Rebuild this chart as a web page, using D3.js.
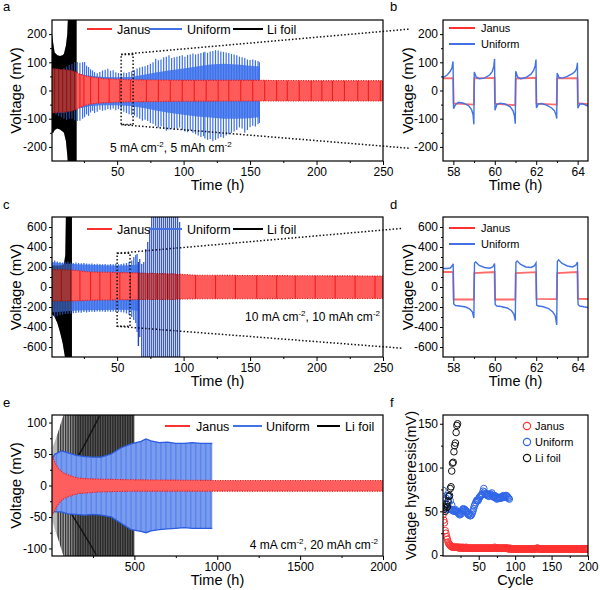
<!DOCTYPE html>
<html><head><meta charset="utf-8">
<script src="https://cdn.jsdelivr.net/npm/d3@7"></script>
<style>body{margin:0;background:#fff}svg{display:block}</style>
</head><body><svg id="chart" width="600" height="590"></svg>
<script>
// ---------------- DATA ----------------
// Panel a: 5 mA cm-2, 5 mAh cm-2 (time h, voltage mV)
const aJanusT  = [1, 5, 10, 15, 19, 22, 26, 30, 35, 40, 50, 60, 80, 100, 150, 200, 250];
const aJanusHi = [78, 76, 74, 72, 66, 58, 52, 48, 45, 42, 40, 38, 37, 36, 36, 35, 35];
const aJanusLo = [-80, -78, -76, -74, -68, -60, -52, -48, -45, -43, -41, -40, -39, -38, -37, -37, -37];
const aJanusStripes = [3, 6, 9, 12, 15, 18, 22, 25, 30, 36, 44, 52, 60, 72, 81, 90, 99, 108, 117, 126, 134, 143, 152, 161, 170, 178, 187, 196, 204, 212, 221, 231, 239, 248];
const aUniT  = [1, 10, 20, 25, 30, 40, 50, 60, 70, 80, 90, 100, 110, 120, 130, 140, 150, 157];
const aUniHi = [70, 70, 60, 56, 52, 48, 47, 48, 56, 65, 72, 78, 85, 92, 95, 92, 88, 85];
const aUniLo = [-80, -80, -65, -60, -55, -52, -52, -55, -62, -72, -80, -86, -92, -96, -100, -100, -98, -95];
const aUniSpikes = [[4,70,-85],[6,75,-90],[8,72,-95],[10,80,-100],[12,85,-105],[14,90,-100],[16,95,-100],[18,100,-105],[20,101,-108],[22,98,-107],[24,100,-100],[25.5,101,-95],[27,88,-85],[28.5,83,-90],[30,75,-78],[31.5,71,-72],[33,65,-80],[35,61,-75],[37,66,-68],[39,71,-72],[41,74,-70],[43,77,-66],[45,70,-68],[47,72,-64],[49,65,-70],[51,62,-66],[53,60,-72],[55,64,-75],[57,62,-80],[59,66,-84],[61,68,-88],[63,72,-89],[65,78,-95],[67,82,-100],[69,84,-107],[71,86,-104],[73,90,-108],[75,95,-115],[77,100,-118],[79,113,-125],[81,107,-131],[83,110,-128],[85,118,-135],[87,120,-143],[89,125,-138],[91,115,-135],[93,118,-140],[95,120,-135],[97,122,-131],[99,125,-140],[101,120,-145],[103,126,-148],[105,128,-142],[107,131,-150],[109,128,-155],[111,130,-160],[113,133,-165],[115,135,-162],[116,137,-170],[118,134,-175],[120,138,-172],[122,140,-180],[124,143,-175],[126,142,-170],[128,138,-165],[130,137,-168],[132,135,-160],[134,133,-155],[136,130,-150],[138,128,-145],[140,125,-140],[142,120,-131],[144,118,-135],[146,115,-150],[148,110,-140],[150,108,-130],[152,110,-125],[154,107,-128],[156,105,-120],[157,100,-115]];
const aLiT  = [1, 2, 3, 5, 7, 9, 10, 11.5, 12.5, 13, 19.5];
const aLiHi = [200, 165, 135, 125, 122, 125, 130, 160, 200, 260, 260];
const aLiLo = [-150, -150, -140, -135, -138, -145, -150, -180, -230, -260, -260];

// Panel b: zoom 57.5-64.5 h
const bJanusT = [57.5, 57.99, 58.01, 58.99, 59.01, 59.99, 60.01, 60.99, 61.01, 61.99, 62.01, 62.99, 63.01, 63.99, 64.01, 64.5];
const bJanusV = [43, 44, -46, -50, 43, 45, -47, -52, 42, 45, -47, -50, 43, 44, -45, -48];
const bUniT = [57.5,57.7,57.85,57.93,57.985, 58.01,58.1,58.25,58.5,58.75,58.88,58.95,58.99, 59.01,59.1,59.25,59.5,59.75,59.88,59.95,59.99, 60.01,60.1,60.25,60.5,60.75,60.88,60.95,60.99, 61.01,61.1,61.25,61.5,61.75,61.88,61.95,61.99, 62.01,62.1,62.25,62.5,62.75,62.88,62.95,62.99, 63.01,63.1,63.25,63.5,63.75,63.88,63.95,63.99, 64.01,64.1,64.25,64.5];
const bUniV = [45,55,68,80,103, -65,-50,-42,-45,-55,-68,-85,-120, 66,48,42,44,55,68,85,112, -70,-50,-45,-48,-58,-72,-90,-118, 68,48,42,46,58,72,88,110, -62,-48,-46,-52,-62,-72,-85,-100, 62,46,44,50,60,68,78,98, -63,-48,-47,-55];

// Panel c: 10 mA cm-2, 10 mAh cm-2
const cJanusT  = [1, 10, 20, 25, 30, 40, 50, 60, 65, 70, 80, 90, 100, 110, 150, 200, 250];
const cJanusHi = [175, 172, 165, 155, 150, 148, 145, 142, 140, 138, 135, 132, 125, 118, 115, 112, 110];
const cJanusLo = [-140, -140, -138, -135, -132, -130, -128, -126, -125, -125, -125, -125, -120, -118, -117, -115, -115];
const cJanusStripes = [8, 15, 22, 30, 37, 45, 52, 60, 66, 73, 80, 88, 95, 109, 124, 139, 155, 170, 184, 199, 214, 229, 244];
const cUniT  = [1, 5, 10, 15, 20, 30, 40, 50, 60, 66];
const cUniHi = [250, 242, 236, 232, 228, 222, 218, 216, 218, 225];
const cUniLo = [-255, -250, -245, -240, -236, -232, -230, -228, -230, -240];
const cUniSpikes = [[3,265,-300],[5,255,-290],[7,250,-280],[9,245,-275],[11,250,-270],[13,255,-270],[15,245,-265],[17,240,-262],[19,245,-260],[21,240,-255],[23,238,-258],[25,240,-250],[27,235,-255],[29,232,-250],[31,236,-248],[33,230,-250],[35,233,-245],[37,230,-248],[39,228,-245],[41,230,-250],[43,226,-245],[45,230,-248],[47,228,-245],[49,232,-250],[51,228,-248],[53,230,-252],[55,235,-255],[57,240,-265],[59,250,-280],[61,265,-300],[62.5,300,-330],[64,320,-360],[65,330,-450],[66,250,-590],[67,280,-500],[68.5,230,-750],[70,250,-750],[71.5,380,-750],[73,450,-750],[74.5,600,-720],[76,750,-750],[77.5,750,-750],[79,750,-720],[80.5,750,-750],[82,750,-750],[83.5,750,-750],[85,720,-750],[86.5,750,-750],[88,750,-750],[89.5,750,-750],[91,750,-750],[92.5,750,-750],[94,750,-750],[95.5,750,-720],[97,650,-750]];
const cLiT  = [1, 3, 5, 7, 9, 10, 11, 11.5, 16];
const cLiHi = [215, 215, 215, 215, 220, 230, 320, 750, 750];
const cLiLo = [-270, -300, -360, -450, -560, -640, -720, -750, -750];

// Panel d: zoom 57.5-64.5 h
const dJanusT = [57.5, 57.99, 58.01, 58.99, 59.01, 59.99, 60.01, 60.99, 61.01, 61.99, 62.01, 62.99, 63.01, 63.99, 64.01, 64.5];
const dJanusV = [150, 150, -125, -125, 140, 150, -125, -125, 140, 148, -118, -122, 140, 150, -118, -120];
const dUniT = [57.5,57.7,57.85,57.95,57.99, 58.02,58.1,58.3,58.6,58.8,58.92,58.99, 59.02,59.08,59.25,59.5,59.75,59.9,59.99, 60.02,60.1,60.3,60.6,60.8,60.92,60.99, 61.02,61.08,61.25,61.5,61.75,61.9,61.99, 62.02,62.1,62.3,62.6,62.8,62.92,62.99, 63.02,63.08,63.25,63.5,63.75,63.9,63.99, 64.02,64.1,64.3,64.5];
const dUniV = [185,185,190,215,232, -170,-185,-190,-200,-220,-250,-310, 240,250,215,195,188,200,235, -175,-190,-195,-210,-235,-270,-335, 245,260,225,200,195,210,240, -180,-190,-195,-215,-250,-290,-380, 255,272,235,210,200,215,250, -175,-190,-198,-205];

// Panel e: 4 mA cm-2, 20 mAh cm-2
const eJanusT  = [3, 10, 20, 30, 40, 60, 80, 100, 130, 160, 200, 300, 500, 1000, 1500, 2000];
const eJanusHi = [50, 44, 37, 32, 28, 22, 19, 17, 14, 12, 11, 10, 9, 8, 8, 8];
const eJanusLo = [-48, -44, -40, -34, -30, -24, -20, -18, -15, -13, -12, -10, -9, -9, -9, -9];
const eUniT  = [3, 10, 20, 40, 60, 100, 150, 200, 250, 300, 360, 420, 480, 540, 570, 600, 650, 700, 750, 800, 850, 900, 950, 970];
const eUniHi = [35, 45, 50, 52, 55, 52, 48, 46, 45, 45, 50, 60, 66, 70, 74, 71, 68, 69, 67, 67, 68, 67, 67, 67];
const eUniLo = [-30, -38, -42, -42, -42, -45, -46, -47, -46, -47, -50, -60, -70, -73, -75, -72, -70, -69, -68, -67, -68, -68, -68, -68];
const eUniStripes = [30, 60, 90, 120, 150, 180, 210, 240, 270, 300, 330, 360, 390, 420, 450, 480, 510, 540, 570, 600, 630, 660, 690, 720, 750, 780, 810, 840, 870, 900, 930, 960];
const eLiT  = [5, 20, 40, 70, 80, 500];
const eLiHi = [60, 70, 85, 110, 115, 115];
const eLiLo = [-55, -70, -85, -110, -115, -115];
const eLiStripes = [40, 55, 70, 85, 100, 115, 130, 145, 160, 175, 190, 205, 220, 235, 250, 265, 280, 295, 310, 325, 340, 355, 370, 385, 400, 415, 430, 445, 460, 475, 490];
const eLiEdgeUp = [[130, 35], [180, 55], [230, 80], [289, 110]];
const eLiEdgeLo = [[120, -45], [180, -70], [230, -92], [270, -110]];

// Panel f: voltage hysteresis vs cycle
const fJanusV = [46,40,37,28,25,21,18,15,13,12,11,10,10,9,9,9,9,9,9,9,
  9,9,8,9,8,9,8,8,9,8,8,8,9,8,8,8,8,8,8,8,
  8,8,8,8,8,8,8,8,8,8,8,8,8,8,8,8,8,8,8,8,
  8,8,8,8,8,8,8,8,8,8,8,9,8,8,8,8,8,8,8,8,
  8,8,8,8,8,8,8,8,8,8,7,7,8,7,7,7,7,7,7,7,
  7,7,7,7,7,7,7,7,7,7,7,7,7,7,7,7,7,7,7,7,
  7,7,7,7,7,7,7,7,7,8,8,7,7,7,7,7,7,7,7,7,
  7,7,7,7,7,7,7,7,7,7,7,7,7,7,7,7,7,7,7,7,
  7,7,7,7,7,7,7,7,7,7,7,7,7,7,7,7,7,7,7,7,
  7,7,7,7,7,7,7,7,7,7,7,7,7,7,7,7,7,7,7,7];
const fUniV = [74,55,62,58,65,52,68,60,67,53,62,52,57,51,52,50,51,52,50,50,
  49,48,47,46,48,47,50,52,53,52,52,51,50,49,47,46,47,45,45,46,
  48,50,53,56,58,60,62,63,62,64,66,67,68,69,70,73,76,72,70,69,
  70,68,69,67,68,70,69,71,68,67,66,68,67,65,64,65,66,65,65,66,
  65,67,66,68,67,66,68,68,67,66,65,64];
const fLiC = [2,3,4,5,6,7,8,9,10,11,12,13,14,15,16,17,18,19,20,21];
const fLiV = [52,55,50,54,58,55,62,67,68,76,78,96,105,106,118,125,128,140,148,150];

const seriesNames = ["Janus", "Uniform", "Li foil"];

// ---------------- DRAWING ----------------
const F = "Arial, 'Liberation Sans', Helvetica, sans-serif";
const RED = "#ff5b5b", REDL = "#ee1818", RLEG = "#ff3030";
const BLUE = "#5a88f0", BLUEL = "#3d6fe8", BLEG = "#4272e6";
const svg = d3.select("#chart");
const defs = svg.append("defs");
let nClip = 0;

function panel(o) {
  const x = d3.scaleLinear().domain(o.xd).range([o.l, o.r]);
  const y = d3.scaleLinear().domain(o.yd).range([o.b, o.t]);
  const id = "clip" + (nClip++);
  defs.append("clipPath").attr("id", id).append("rect")
    .attr("x", o.l).attr("y", o.t).attr("width", o.r - o.l).attr("height", o.b - o.t);
  const plot = svg.append("g").attr("clip-path", `url(#${id})`);
  const ax = svg.append("g");
  return { x, y, plot, ax, o };
}
function axes(p, xt, xm, yt, ym, xlab, ylab, ylx, tsz) {
  const { x, y, ax, o } = p;
  const st = s => { s.select(".domain").remove(); s.attr("font-family", F).attr("font-size", 12);
    s.selectAll("line").attr("stroke", "#000"); s.selectAll("text").attr("fill", "#000"); };
  const fmt = d => String(d);
  ax.append("g").attr("transform", `translate(0,${o.b})`).call(d3.axisBottom(x).tickValues(xt).tickSize(4).tickPadding(2).tickFormat(fmt)).call(st);
  ax.append("g").attr("transform", `translate(0,${o.b})`).call(d3.axisBottom(x).tickValues(xm).tickSize(2).tickFormat("")).call(st);
  ax.append("g").attr("transform", `translate(${o.l},0)`).call(d3.axisLeft(y).tickValues(yt).tickSize(3).tickPadding(2).tickFormat(fmt)).call(st);
  ax.append("g").attr("transform", `translate(${o.l},0)`).call(d3.axisLeft(y).tickValues(ym).tickSize(2).tickFormat("")).call(st);
  ax.append("rect").attr("x", o.l).attr("y", o.t).attr("width", o.r - o.l).attr("height", o.b - o.t)
    .attr("fill", "none").attr("stroke", "#000").attr("stroke-width", 1.2);
  ax.append("text").attr("x", (o.l + o.r) / 2).attr("y", o.b + 29).attr("text-anchor", "middle")
    .attr("font-family", F).attr("font-size", 14.5).text(xlab);
  ax.append("text").attr("transform", `translate(${ylx},${(o.t + o.b) / 2}) rotate(-90)`).attr("text-anchor", "middle")
    .attr("font-family", F).attr("font-size", tsz || 15).text(ylab);
}
function bandPath(p, T, Hi, Lo) {
  return d3.area().x(i => p.x(T[i])).y0(i => p.y(Lo[i])).y1(i => p.y(Hi[i]))(d3.range(T.length));
}
function edge(p, T, V) { return d3.line().x(i => p.x(T[i])).y(i => p.y(V[i]))(d3.range(T.length)); }
function stripes(p, T, Hi, Lo, times, color, w, op) {
  const id = "bc" + (nClip++);
  defs.append("clipPath").attr("id", id).append("path").attr("d", bandPath(p, T, Hi, Lo));
  p.plot.append("g").attr("clip-path", `url(#${id})`).selectAll("line").data(times).join("line")
    .attr("x1", d => p.x(d)).attr("x2", d => p.x(d)).attr("y1", p.o.t).attr("y2", p.o.b)
    .attr("stroke", color).attr("stroke-width", w).attr("opacity", op);
}
function spikes(g, p, data, color, w) {
  return g.append("g").selectAll("line").data(data).join("line")
    .attr("x1", d => p.x(d[0])).attr("x2", d => p.x(d[0])).attr("y1", d => p.y(d[1])).attr("y2", d => p.y(d[2]))
    .attr("stroke", color).attr("stroke-width", w);
}
function legendLines(items, y, fs) {
  items.forEach(it => {
    svg.append("line").attr("x1", it.x1).attr("x2", it.x2).attr("y1", y).attr("y2", y).attr("stroke", it.c).attr("stroke-width", 2);
    svg.append("text").attr("x", it.tx).attr("y", y + fs * 0.36).attr("font-family", F).attr("font-size", fs).text(it.name);
  });
}
function annot(x, y, a, b, anchor) {
  const t = svg.append("text").attr("x", x).attr("y", y).attr("text-anchor", anchor).attr("font-family", F).attr("font-size", 12);
  t.append("tspan").text(a + " mA cm");
  t.append("tspan").attr("dy", -5).attr("font-size", 8).text("-2");
  t.append("tspan").attr("dy", 5).text(", " + b + " mAh cm");
  t.append("tspan").attr("dy", -5).attr("font-size", 8).text("-2");
}
function letter(x, y, s) { svg.append("text").attr("x", x).attr("y", y).attr("font-family", F).attr("font-size", 13).text(s); }
function envelopeBand(p, T, Hi, Lo, fill, op) {
  return p.plot.append("path").attr("d", bandPath(p, T, Hi, Lo)).attr("fill", fill).attr("opacity", op == null ? 1 : op);
}
function redEdges(p, T, Hi, Lo) {
  [Hi, Lo].forEach(V => p.plot.append("path").attr("d", edge(p, T, V)).attr("fill", "none")
    .attr("stroke", REDL).attr("stroke-width", 1.1).attr("stroke-dasharray", "1.2,1.3"));
}

// ---- Panel a ----
const pa = panel({ l: 52, r: 383, t: 20, b: 161, xd: [1, 250], yd: [-250, 250] });
envelopeBand(pa, aLiT, aLiHi, aLiLo, "#000");
envelopeBand(pa, aUniT, aUniHi, aUniLo, BLUE);
spikes(pa.plot, pa, aUniSpikes, BLUEL, 1.2);
envelopeBand(pa, aJanusT, aJanusHi, aJanusLo, RED);
stripes(pa, aJanusT, aJanusHi, aJanusLo, aJanusStripes, REDL, 1.1, 0.9);
redEdges(pa, aJanusT, aJanusHi, aJanusLo);
envelopeBand(pa, aLiT, aLiHi, aLiLo, "#000", 0.38);
axes(pa, [50, 100, 150, 200, 250], [25, 75, 125, 175, 225], [-200, -100, 0, 100, 200], [-150, -50, 50, 150], "Time (h)", "Voltage (mV)", 21);

// ---- Panel b ----
const pb = panel({ l: 443, r: 588, t: 20, b: 161, xd: [57.5, 64.5], yd: [-250, 250] });
pb.plot.append("path").attr("d", edge(pb, bJanusT, bJanusV)).attr("fill", "none").attr("stroke", "#ff6a6a").attr("stroke-width", 1.8);
pb.plot.append("path").attr("d", edge(pb, bUniT, bUniV)).attr("fill", "none").attr("stroke", BLEG).attr("stroke-width", 1.4);
axes(pb, [58, 60, 62, 64], [59, 61, 63], [-200, -100, 0, 100, 200], [-150, -50, 50, 150], "Time (h)", "Voltage (mV)", 413);

// ---- Panel c ----
const pc = panel({ l: 52, r: 383, t: 217, b: 357, xd: [1, 250], yd: [-700, 700] });
envelopeBand(pc, cLiT, cLiHi, cLiLo, "#000");
envelopeBand(pc, cUniT, cUniHi, cUniLo, BLUE);
spikes(pc.plot, pc, cUniSpikes.filter(d => d[0] <= 66), BLUEL, 1.3);
spikes(pc.plot, pc, cUniSpikes.filter(d => d[0] > 66), BLUEL, 0.85);
envelopeBand(pc, cJanusT, cJanusHi, cJanusLo, RED);
stripes(pc, cJanusT, cJanusHi, cJanusLo, cJanusStripes, REDL, 1.1, 0.9);
redEdges(pc, cJanusT, cJanusHi, cJanusLo);
envelopeBand(pc, cLiT, cLiHi, cLiLo, "#000", 0.38);
spikes(pc.plot, pc, cUniSpikes.filter(d => d[0] > 65), "#2040b0", 1.3).style("mix-blend-mode", "multiply").attr("opacity", 0.55);
axes(pc, [50, 100, 150, 200, 250], [25, 75, 125, 175, 225], [-600, -400, -200, 0, 200, 400, 600], [-500, -300, -100, 100, 300, 500], "Time (h)", "Voltage (mV)", 21);

// ---- Panel d ----
const pd = panel({ l: 443, r: 588, t: 217, b: 357, xd: [57.5, 64.5], yd: [-700, 700] });
pd.plot.append("path").attr("d", edge(pd, dJanusT, dJanusV)).attr("fill", "none").attr("stroke", "#ff6a6a").attr("stroke-width", 1.8);
pd.plot.append("path").attr("d", edge(pd, dUniT, dUniV)).attr("fill", "none").attr("stroke", BLEG).attr("stroke-width", 1.4);
axes(pd, [58, 60, 62, 64], [59, 61, 63], [-600, -400, -200, 0, 200, 400, 600], [-500, -300, -100, 100, 300, 500], "Time (h)", "Voltage (mV)", 413);

// ---- Panel e ----
const pe = panel({ l: 52, r: 383, t: 415, b: 556, xd: [3, 2000], yd: [-112, 112] });
const grad = defs.append("linearGradient").attr("id", "liGrad").attr("gradientUnits", "userSpaceOnUse")
  .attr("x1", pe.x(5)).attr("x2", pe.x(500)).attr("y1", 0).attr("y2", 0);
[[0, "#bdbdbd"], [0.22, "#a5a5a5"], [0.32, "#5c5c5c"], [1, "#565656"]].forEach(s => grad.append("stop").attr("offset", s[0]).attr("stop-color", s[1]));
envelopeBand(pe, eLiT, eLiHi, eLiLo, "url(#liGrad)");
stripes(pe, eLiT, eLiHi, eLiLo, eLiStripes, "#222", 1.4, 0.85);
[eLiEdgeUp, eLiEdgeLo].forEach(E => pe.plot.append("path").attr("d", d3.line().x(d => pe.x(d[0])).y(d => pe.y(d[1]))(E))
  .attr("fill", "none").attr("stroke", "#111").attr("stroke-width", 1.4));
envelopeBand(pe, eUniT, eUniHi, eUniLo, "#7a9cf0");
stripes(pe, eUniT, eUniHi, eUniLo, eUniStripes, "#4a78e8", 1.5, 0.6);
[eUniHi, eUniLo].forEach(V => pe.plot.append("path").attr("d", edge(pe, eUniT, V)).attr("fill", "none").attr("stroke", "#2a5ce0").attr("stroke-width", 1.3));
envelopeBand(pe, eJanusT, eJanusHi, eJanusLo, "#ff5e5e");
redEdges(pe, eJanusT, eJanusHi, eJanusLo);
axes(pe, [500, 1000, 1500, 2000], [250, 750, 1250, 1750], [-100, -50, 0, 50, 100], [-75, -25, 25, 75], "Time (h)", "Voltage (mV)", 21);

// ---- Panel f ----
const pf = panel({ l: 443, r: 588, t: 415, b: 556, xd: [1, 200], yd: [-1, 160] });
const circ = (data, xf, yf, c) => pf.plot.append("g").selectAll("circle").data(data).join("circle")
  .attr("cx", xf).attr("cy", yf).attr("r", 3.3).attr("fill", "none").attr("stroke", c).attr("stroke-width", 1);
circ(fJanusV, (d, i) => pf.x(i + 1), d => pf.y(d), "#ff3030");
circ(fUniV, (d, i) => pf.x(i + 1), d => pf.y(d), "#2f66e8");
circ(fLiV, (d, i) => pf.x(fLiC[i]), d => pf.y(d), "#111");
axes(pf, [50, 100, 150, 200], [25, 75, 125, 175], [0, 50, 100, 150], [25, 75, 125], "Cycle", "Voltage hysteresis(mV)", 416, 14.5);

// ---- zoom connectors ----
function zoomBox(p, q, t0, t1, v0, v1, endHi, endLo, endX) {
  const g = svg.append("g").attr("fill", "none").attr("stroke", "#111").attr("stroke-width", 1.5).attr("stroke-dasharray", "1.5,2");
  g.append("rect").attr("x", p.x(t0)).attr("y", p.y(v1)).attr("width", p.x(t1) - p.x(t0)).attr("height", p.y(v0) - p.y(v1));
  g.append("line").attr("x1", p.x(t0)).attr("y1", p.y(v1)).attr("x2", endX).attr("y2", q.y(endHi));
  g.append("line").attr("x1", p.x(t0)).attr("y1", p.y(v0)).attr("x2", endX).attr("y2", q.y(endLo));
}
zoomBox(pa, pb, 53, 62, -121, 128, 218, -205, 410);
zoomBox(pc, pd, 50, 59.7, -393, 337, 587, -613, 403);

// ---- legends ----
legendLines([{ x1: 87, x2: 112, tx: 117, c: RLEG, name: seriesNames[0] }, { x1: 149, x2: 182, tx: 187, c: BLEG, name: seriesNames[1] }, { x1: 233, x2: 263, tx: 267, c: "#000", name: seriesNames[2] }], 29, 12.5);
legendLines([{ x1: 87, x2: 112, tx: 117, c: RLEG, name: seriesNames[0] }, { x1: 149, x2: 182, tx: 187, c: BLEG, name: seriesNames[1] }, { x1: 233, x2: 263, tx: 267, c: "#000", name: seriesNames[2] }], 229, 12.5);
legendLines([{ x1: 165, x2: 190, tx: 196, c: RLEG, name: seriesNames[0] }, { x1: 233, x2: 262, tx: 266, c: BLEG, name: seriesNames[1] }, { x1: 317, x2: 340, tx: 345, c: "#000", name: seriesNames[2] }], 426, 12.5);
legendLines([{ x1: 449, x2: 475, tx: 481, c: RLEG, name: seriesNames[0] }], 28, 11);
legendLines([{ x1: 449, x2: 475, tx: 481, c: BLEG, name: seriesNames[1] }], 44, 11);
legendLines([{ x1: 449, x2: 475, tx: 481, c: RLEG, name: seriesNames[0] }], 228, 11);
legendLines([{ x1: 449, x2: 475, tx: 481, c: BLEG, name: seriesNames[1] }], 244, 11);
[["#ff3030", 426], ["#2f66e8", 442], ["#111", 458]].forEach((s, i) => {
  svg.append("circle").attr("cx", 527).attr("cy", s[1]).attr("r", 3.6).attr("fill", "none").attr("stroke", s[0]).attr("stroke-width", 1.2);
  svg.append("text").attr("x", 535).attr("y", s[1] + 4).attr("font-family", F).attr("font-size", 11).text(seriesNames[i]);
});

// ---- annotations & letters ----
annot(110, 152, "5", "5", "start");
annot(380, 321, "10", "10", "end");
annot(378, 549, "4", "20", "end");
letter(3, 11, "a"); letter(390, 11, "b"); letter(3, 209, "c"); letter(390, 209, "d"); letter(3, 407, "e"); letter(390, 407, "f");
</script></body></html>
